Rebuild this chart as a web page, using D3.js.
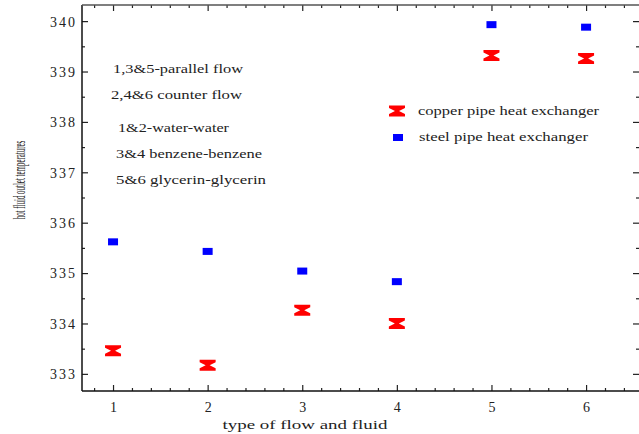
<!DOCTYPE html>
<html>
<head>
<meta charset="utf-8">
<script src="https://cdn.jsdelivr.net/npm/d3@7"></script>
<style>
body { margin: 0; background: #fff; }
svg { display: block; }
text { font-family: "Liberation Serif", "DejaVu Serif", serif; fill: #222; }
</style>
</head>
<body>
<svg id="chart" width="639" height="434"></svg>
<script>
//Data
const CASES = [1, 2, 3, 4, 5, 6];
const COPPER = [333.46, 333.17, 334.26, 334.00, 339.32, 339.26];
const STEEL = [335.62, 335.43, 335.04, 334.83, 339.93, 339.88];
const Y_TICKS = [333, 334, 335, 336, 337, 338, 339, 340];
const NOTES = ["1,3&5-parallel flow", "2,4&6 counter flow", "1&2-water-water", "3&4 benzene-benzene", "5&6 glycerin-glycerin"];
const LEGEND = ["copper pipe heat exchanger", "steel pipe heat exchanger"];

const LEFT = 82, RIGHT = 640, TOP = 5, BOTTOM = 391;

const svg = d3.select("#chart");

const x = d3.scaleLinear().domain([0.672, 6.57]).range([LEFT, RIGHT]);
const y = d3.scaleLinear().domain([332.66, 340.32]).range([BOTTOM, TOP]);

//Minor ticks every 0.2 on x and 0.5 on y
const x_minor = d3.range(0.8, 6.6, 0.2).filter(v => Math.abs(v - Math.round(v)) > 0.01);
const y_minor = d3.range(332.5, 340.5, 0.5).filter(v => Math.abs(v - Math.round(v)) > 0.01 && v > 332.66 && v < 340.32);

//Frame with inward ticks
function frame(axis, tr, ticks, size, labels)
{
	const g = svg.append("g").attr("transform", tr)
		.call(axis.tickValues(ticks).tickSize(size).tickPadding(labels ? 6 : 0)
			.tickFormat(labels ? d3.format("d") : () => ""));
	g.selectAll("line").attr("stroke", "#222").attr("stroke-width", 1.2);
	g.select(".domain").remove();
	g.selectAll("text").style("font-size", "14px").style("letter-spacing", "2px").attr("fill", "#222");
	return g;
}

frame(d3.axisBottom(x), `translate(0,${BOTTOM})`, CASES, -6, true)
	.selectAll("text").attr("dy", "1.05em").attr("dx", "1px");
frame(d3.axisBottom(x), `translate(0,${BOTTOM})`, x_minor, -3, false);
frame(d3.axisTop(x), `translate(0,${TOP})`, CASES, -6, false);
frame(d3.axisTop(x), `translate(0,${TOP})`, x_minor, -3, false);
frame(d3.axisLeft(y), `translate(${LEFT},0)`, Y_TICKS, -6, true)
	.selectAll("text").attr("dy", "0.35em").attr("x", -5);
frame(d3.axisLeft(y), `translate(${LEFT},0)`, y_minor, -3, false);
frame(d3.axisRight(y), `translate(${RIGHT - 1},0)`, Y_TICKS, -6, false);
frame(d3.axisRight(y), `translate(${RIGHT - 1},0)`, y_minor, -3, false);

//Axis lines
svg.append("line").attr("x1", LEFT).attr("x2", RIGHT).attr("y1", BOTTOM).attr("y2", BOTTOM)
	.attr("stroke", "#111").attr("stroke-width", 1.5);
svg.append("line").attr("x1", LEFT).attr("x2", LEFT).attr("y1", TOP).attr("y2", BOTTOM)
	.attr("stroke", "#111").attr("stroke-width", 1.5);
svg.append("line").attr("x1", LEFT).attr("x2", RIGHT).attr("y1", TOP).attr("y2", TOP)
	.attr("stroke", "#555").attr("stroke-width", 1.3);

//Axis titles
svg.append("text").attr("x", 305).attr("y", 429).attr("text-anchor", "middle")
	.attr("textLength", 165).attr("lengthAdjust", "spacingAndGlyphs")
	.style("font-size", "13px").text("type of flow and fluid");
//The y title is drawn very narrow, so squeeze it along its length
svg.append("text").attr("transform", "translate(25,180) rotate(-90) scale(0.42,1)").attr("text-anchor", "middle")
	.style("font-size", "16.5px").text("hot fluid outlet temperatures");

//Notes in the upper left
const note_pos = [[113, 73, 130], [111, 99, 131], [118, 132, 111], [116, 158, 146], [116, 184, 150]];
svg.selectAll(".note").data(NOTES).enter().append("text")
	.attr("class", "note")
	.attr("x", (d, i) => note_pos[i][0])
	.attr("y", (d, i) => note_pos[i][1])
	.attr("textLength", (d, i) => note_pos[i][2])
	.attr("lengthAdjust", "spacingAndGlyphs")
	.style("font-size", "13.5px")
	.text(d => d);

//Markers
const hourglass = "M-8,-5.5L8,-5.5L8,-3L2,0L8,3L8,5.5L-8,5.5L-8,3L-2,0L-8,-3Z";

svg.selectAll(".steel").data(STEEL).enter().append("rect")
	.attr("class", "steel")
	.attr("x", (d, i) => x(CASES[i]) - 5)
	.attr("y", d => y(d) - 3.5)
	.attr("width", 10).attr("height", 7)
	.attr("fill", "#0000ff");

svg.selectAll(".copper").data(COPPER).enter().append("path")
	.attr("class", "copper")
	.attr("transform", (d, i) => `translate(${x(CASES[i])},${y(d)})`)
	.attr("d", hourglass)
	.attr("fill", "#ff0000");

//Legend
const lg = svg.append("g");
lg.append("path").attr("transform", "translate(397,111)").attr("d", hourglass).attr("fill", "#ff0000");
lg.append("rect").attr("x", 393).attr("y", 134).attr("width", 10).attr("height", 7).attr("fill", "#0000ff");
const legend_pos = [[418, 115, 181], [419, 141, 169]];
lg.selectAll("text").data(LEGEND).enter().append("text")
	.attr("x", (d, i) => legend_pos[i][0])
	.attr("y", (d, i) => legend_pos[i][1])
	.attr("textLength", (d, i) => legend_pos[i][2])
	.attr("lengthAdjust", "spacingAndGlyphs")
	.style("font-size", "13.5px")
	.text(d => d);
</script>
</body>
</html>
